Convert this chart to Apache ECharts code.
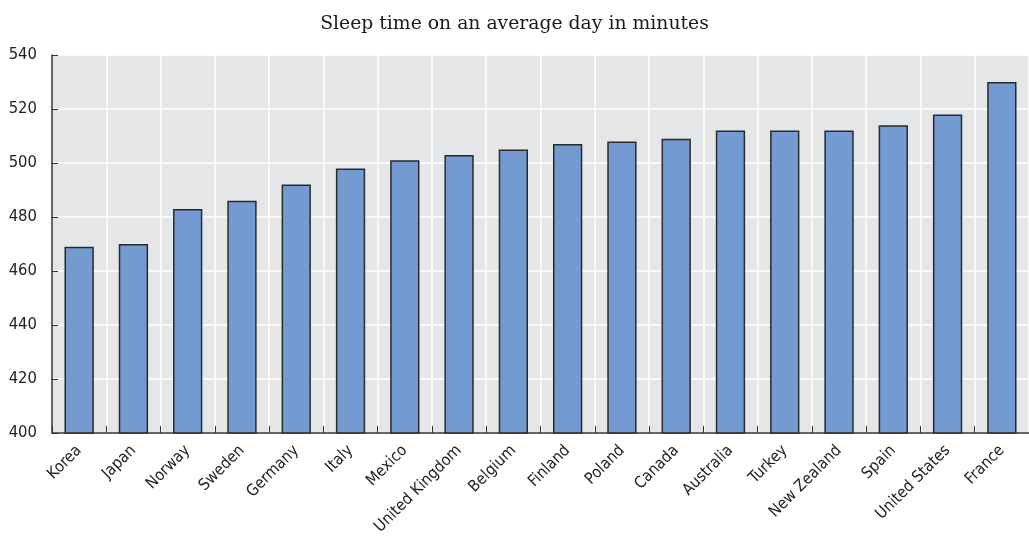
<!DOCTYPE html>
<html>
<head>
<meta charset="utf-8">
<style>
  html, body { margin: 0; padding: 0; background: #ffffff; }
  #chart { width: 1029px; height: 538px; }
</style>
<script src="https://cdn.jsdelivr.net/npm/echarts@6/dist/echarts.min.js"></script>
</head>
<body>
<div id="chart"></div>
<script>
// Countries, ordered from least to most sleep
const countries = ['Korea', 'Japan', 'Norway', 'Sweden', 'Germany', 'Italy', 'Mexico',
  'United Kingdom', 'Belgium', 'Finland', 'Poland', 'Canada', 'Australia', 'Turkey',
  'New Zealand', 'Spain', 'United States', 'France'];

// Sleep time on an average day, minutes
const sleepMinutes = [469, 470, 483, 486, 492, 498, 501, 503, 505, 507, 508, 509, 512, 512,
  512, 514, 518, 530];

const subtitleText = 'Sleep time on an average day in minutes';
const yMin = 400, yMax = 540, yStep = 20;

const narrow = "'DejaVu Sans Condensed', 'Liberation Sans Narrow', 'Liberation Sans', sans-serif";
const chart = echarts.init(document.getElementById('chart'), null, { renderer: 'canvas' });

chart.setOption({
  backgroundColor: '#ffffff',
  animation: false,
  title: {
    text: subtitleText,
    left: 'center',
    top: 10,
    textStyle: {
      fontFamily: "'DejaVu Serif', 'Liberation Serif', serif",
      fontWeight: 'normal',
      fontSize: 18.8,
      color: '#1a1a1a'
    }
  },
  grid: {
    left: 52,
    right: -7,
    top: 55,
    bottom: 105,
    show: true,
    backgroundColor: '#e5e6e8',
    borderWidth: 0
  },
  xAxis: {
    type: 'category',
    data: countries,
    axisLine: { show: true, lineStyle: { color: '#333333', width: 1.5 } },
    axisTick: { show: true, inside: true, length: 7, lineStyle: { color: '#333333', width: 1 } },
    splitLine: { show: true, interval: 0, lineStyle: { color: '#ffffff', width: 1.5 } },
    axisLabel: {
      interval: 0,
      rotate: 45,
      margin: 15,
      fontFamily: narrow,
      fontSize: 16,
      color: '#222222'
    }
  },
  yAxis: {
    type: 'value',
    min: yMin,
    max: yMax,
    interval: yStep,
    axisLine: { show: true, lineStyle: { color: '#333333', width: 1.5 } },
    axisTick: { show: true, inside: true, length: 6, lineStyle: { color: '#333333', width: 1 } },
    splitLine: { show: true, lineStyle: { color: '#ffffff', width: 1.5 } },
    axisLabel: {
      margin: 15,
      fontFamily: narrow,
      fontSize: 16.5,
      color: '#222222'
    }
  },
  series: [{
    type: 'bar',
    data: sleepMinutes,
    barWidth: '54%',
    itemStyle: {
      color: '#749bd1',
      borderColor: '#2a2a2a',
      borderWidth: 1.5
    }
  }]
});
</script>
</body>
</html>
